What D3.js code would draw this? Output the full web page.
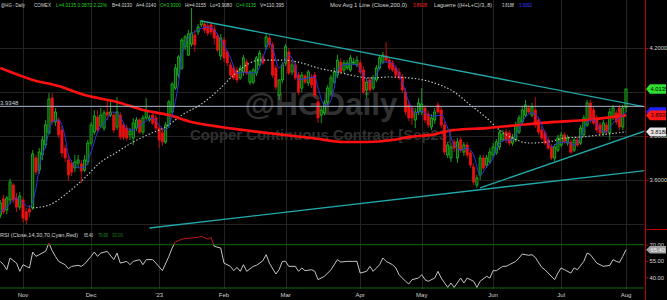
<!DOCTYPE html>
<html>
<head>
<meta charset="utf-8">
<script src="https://cdn.jsdelivr.net/npm/d3@7"></script>
<style>
  body { margin: 0; background: #000; }
  svg { display: block; font-family: Arial, "Liberation Sans", sans-serif; }
</style>
</head>
<body>
<svg id="chart"></svg>
<script>
// daily bars, Oct 21 2022 .. Aug 1 2023 (index 7 = Nov 1)
const open = [
  3.441, 3.514, 3.464, 3.509, 3.577, 3.518, 3.477, 3.509, 3.455, 3.468,
  3.473, 3.700, 3.645, 3.714, 3.759, 3.814, 3.973, 3.864, 3.873, 3.827,
  3.745, 3.691, 3.677, 3.655, 3.677, 3.673, 3.645, 3.682, 3.768, 3.818,
  3.886, 3.845, 3.836, 3.909, 3.895, 3.895, 3.841, 3.895, 3.850, 3.836,
  3.805, 3.791, 3.836, 3.873, 3.818, 3.882, 3.873, 3.895, 3.882, 3.836,
  3.814, 3.773, 3.850, 3.909, 4.018, 4.077, 4.109, 4.205, 4.168, 4.218,
  4.259, 4.273, 4.305, 4.309, 4.300, 4.305, 4.286, 4.255, 4.164, 4.236,
  4.182, 4.123, 4.109, 4.100, 4.064, 4.091, 4.136, 4.045, 4.045, 4.086,
  4.123, 4.159, 4.205, 4.245, 4.214, 4.109, 3.986, 4.055, 4.132, 4.182,
  4.091, 4.123, 4.077, 4.018, 4.073, 4.041, 4.068, 4.077, 3.955, 3.895,
  3.905, 3.955, 4.000, 4.045, 4.077, 4.136, 4.100, 4.109, 4.100, 4.132,
  4.123, 4.132, 4.100, 4.009, 4.055, 4.018, 4.055, 4.109, 4.136, 4.164,
  4.145, 4.132, 4.109, 4.091, 4.068, 4.000, 3.941, 3.927, 3.873, 3.909,
  3.909, 3.927, 3.900, 3.841, 3.873, 3.941, 3.918, 3.850, 3.714, 3.700,
  3.773, 3.700, 3.782, 3.727, 3.759, 3.723, 3.659, 3.577, 3.623, 3.700,
  3.668, 3.682, 3.714, 3.723, 3.750, 3.782, 3.818, 3.814, 3.768, 3.782,
  3.818, 3.864, 3.895, 3.927, 3.895, 3.918, 3.873, 3.827, 3.814, 3.782,
  3.750, 3.700, 3.736, 3.759, 3.805, 3.768, 3.773, 3.736, 3.782, 3.768,
  3.805, 3.850, 3.950, 3.918, 3.882, 3.850, 3.814, 3.850, 3.814, 3.886,
  3.905, 3.927, 3.841, 3.930
];
const high = [
  3.509, 3.532, 3.527, 3.605, 3.586, 3.541, 3.545, 3.523, 3.473, 3.486,
  3.736, 3.714, 3.745, 3.800, 3.873, 3.995, 3.995, 3.927, 3.886, 3.845,
  3.759, 3.714, 3.691, 3.714, 3.714, 3.691, 3.714, 3.782, 3.864, 3.918,
  3.918, 3.927, 3.918, 3.959, 3.964, 3.909, 3.977, 3.909, 3.864, 3.850,
  3.836, 3.882, 3.886, 3.882, 3.895, 3.973, 3.895, 3.909, 3.895, 3.850,
  3.836, 3.864, 3.964, 4.045, 4.127, 4.168, 4.245, 4.259, 4.282, 4.382,
  4.282, 4.309, 4.327, 4.318, 4.318, 4.318, 4.305, 4.268, 4.264, 4.250,
  4.191, 4.136, 4.123, 4.114, 4.123, 4.168, 4.150, 4.100, 4.109, 4.164,
  4.191, 4.173, 4.268, 4.259, 4.227, 4.123, 4.055, 4.136, 4.218, 4.200,
  4.136, 4.136, 4.091, 4.091, 4.082, 4.100, 4.082, 4.091, 3.973, 3.936,
  3.964, 4.032, 4.077, 4.109, 4.168, 4.155, 4.145, 4.145, 4.168, 4.155,
  4.164, 4.145, 4.118, 4.064, 4.068, 4.077, 4.123, 4.168, 4.182, 4.227,
  4.159, 4.145, 4.123, 4.109, 4.082, 4.018, 3.955, 3.941, 3.927, 3.973,
  4.018, 3.941, 3.914, 3.900, 3.927, 3.955, 3.932, 3.864, 3.773, 3.768,
  3.786, 3.791, 3.795, 3.773, 3.773, 3.736, 3.677, 3.623, 3.714, 3.714,
  3.714, 3.745, 3.768, 3.786, 3.827, 3.827, 3.832, 3.827, 3.809, 3.864,
  3.895, 3.936, 3.964, 3.941, 3.950, 3.977, 3.886, 3.841, 3.827, 3.795,
  3.764, 3.764, 3.805, 3.818, 3.818, 3.805, 3.786, 3.795, 3.795, 3.850,
  3.895, 3.964, 3.964, 3.936, 3.895, 3.864, 3.873, 3.864, 3.927, 3.941,
  3.918, 3.941, 3.941, 4.0155
];
const low = [
  3.427, 3.445, 3.445, 3.491, 3.495, 3.455, 3.464, 3.409, 3.400, 3.432,
  3.464, 3.623, 3.627, 3.691, 3.745, 3.805, 3.850, 3.845, 3.791, 3.705,
  3.682, 3.595, 3.618, 3.636, 3.655, 3.586, 3.636, 3.668, 3.755, 3.805,
  3.814, 3.836, 3.823, 3.873, 3.886, 3.814, 3.827, 3.782, 3.782, 3.777,
  3.782, 3.759, 3.823, 3.809, 3.805, 3.873, 3.864, 3.850, 3.827, 3.745,
  3.755, 3.764, 3.836, 3.900, 4.009, 4.064, 4.100, 4.191, 4.164, 4.205,
  4.182, 4.259, 4.295, 4.268, 4.255, 4.259, 4.214, 4.182, 4.145, 4.136,
  4.118, 4.064, 4.055, 4.041, 4.055, 4.073, 4.077, 4.032, 4.036, 4.073,
  4.114, 4.123, 4.191, 4.200, 4.064, 4.009, 3.964, 4.041, 4.118, 4.077,
  4.077, 4.055, 3.986, 4.000, 4.036, 4.027, 4.018, 3.973, 3.859, 3.859,
  3.895, 3.941, 3.986, 4.036, 4.064, 4.082, 4.086, 4.100, 4.091, 4.123,
  4.114, 4.082, 3.991, 3.973, 4.000, 4.009, 4.045, 4.100, 4.127, 4.132,
  4.100, 4.091, 4.064, 4.055, 3.995, 3.895, 3.868, 3.850, 3.836, 3.895,
  3.895, 3.859, 3.836, 3.827, 3.855, 3.900, 3.836, 3.714, 3.700, 3.682,
  3.727, 3.677, 3.723, 3.709, 3.700, 3.655, 3.577, 3.564, 3.600, 3.645,
  3.655, 3.673, 3.700, 3.714, 3.736, 3.773, 3.768, 3.755, 3.755, 3.773,
  3.809, 3.855, 3.886, 3.900, 3.886, 3.836, 3.805, 3.782, 3.759, 3.736,
  3.691, 3.686, 3.727, 3.750, 3.764, 3.755, 3.718, 3.727, 3.750, 3.759,
  3.795, 3.841, 3.859, 3.850, 3.814, 3.800, 3.800, 3.805, 3.782, 3.873,
  3.850, 3.827, 3.827, 3.908
];
const close = [
  3.495, 3.455, 3.518, 3.591, 3.509, 3.477, 3.527, 3.427, 3.418, 3.455,
  3.718, 3.636, 3.727, 3.782, 3.850, 3.968, 3.864, 3.909, 3.805, 3.723,
  3.700, 3.623, 3.636, 3.682, 3.691, 3.641, 3.691, 3.768, 3.850, 3.891,
  3.827, 3.895, 3.905, 3.895, 3.909, 3.827, 3.909, 3.795, 3.795, 3.791,
  3.823, 3.859, 3.873, 3.818, 3.882, 3.914, 3.882, 3.859, 3.836, 3.782,
  3.773, 3.850, 3.955, 4.036, 4.109, 4.159, 4.236, 4.250, 4.264, 4.268,
  4.214, 4.295, 4.323, 4.282, 4.268, 4.273, 4.245, 4.191, 4.245, 4.155,
  4.132, 4.077, 4.064, 4.055, 4.109, 4.155, 4.086, 4.091, 4.100, 4.155,
  4.177, 4.132, 4.250, 4.214, 4.077, 4.023, 4.055, 4.123, 4.205, 4.086,
  4.123, 4.064, 4.000, 4.077, 4.045, 4.091, 4.032, 3.986, 3.882, 3.918,
  3.950, 4.018, 4.064, 4.091, 4.145, 4.091, 4.132, 4.132, 4.155, 4.136,
  4.145, 4.091, 4.000, 4.045, 4.009, 4.064, 4.109, 4.155, 4.168, 4.145,
  4.109, 4.100, 4.077, 4.064, 4.009, 3.909, 3.882, 3.882, 3.909, 3.950,
  3.945, 3.873, 3.850, 3.882, 3.909, 3.909, 3.850, 3.727, 3.759, 3.750,
  3.745, 3.773, 3.736, 3.759, 3.714, 3.668, 3.591, 3.609, 3.700, 3.655,
  3.700, 3.727, 3.750, 3.773, 3.814, 3.809, 3.782, 3.768, 3.795, 3.850,
  3.882, 3.918, 3.941, 3.909, 3.932, 3.850, 3.818, 3.791, 3.768, 3.745,
  3.700, 3.750, 3.791, 3.805, 3.773, 3.791, 3.727, 3.782, 3.759, 3.836,
  3.882, 3.950, 3.873, 3.859, 3.827, 3.814, 3.859, 3.818, 3.909, 3.927,
  3.864, 3.841, 3.927, 4.0135
];

const monthLabels = ['Nov', 'Dec', "'23", 'Feb', 'Mar', 'Apr', 'May', 'Jun', 'Jul', 'Aug'];
const monthIdx = [7, 28, 49, 69, 88, 111, 130, 152, 173, 193];
const priceTicks = [3.4, 3.6, 3.8, 4.0, 4.2];
const priceLabels = [3.6, 3.8, 4.2]; // 4.0000 sits under the last-price tag
const rsiTicks = [40, 55, 70];

// Mov Avg (Close,200)
const maIdx = [0, 10, 18, 26, 36, 44, 52, 59, 68, 75, 85, 96, 106, 113, 121, 126, 133, 140, 150, 160, 171, 181, 193];
const maVal = [4.109, 4.055, 4.027, 3.986, 3.955, 3.918, 3.895, 3.864, 3.841, 3.827, 3.809, 3.791, 3.773, 3.773, 3.782, 3.795, 3.805, 3.827, 3.836, 3.850, 3.864, 3.873, 3.8938];

// Laguerre ((H+L+C)/3,.8)
const lagIdx = [0, 2, 5, 7, 9, 11, 12, 14, 16, 18, 20, 21, 24, 26, 28, 30, 32, 35, 37, 39, 41, 43, 45, 47, 49, 51, 53, 55, 56, 58, 61, 64, 66, 68, 71, 73, 75, 77, 79, 81, 83, 84, 86, 87, 89, 91, 92, 95, 97, 98, 100, 101, 103, 104, 106, 108, 110, 112, 114, 116, 118, 120, 122, 124, 126, 128, 130, 132, 134, 136, 138, 140, 142, 144, 146, 148, 150, 152, 154, 156, 158, 160, 162, 164, 166, 168, 170, 172, 175, 177, 179, 181, 183, 185, 187, 189, 191, 193];
const lagVal = [3.455, 3.477, 3.518, 3.495, 3.477, 3.564, 3.655, 3.759, 3.864, 3.873, 3.795, 3.714, 3.655, 3.659, 3.727, 3.818, 3.859, 3.909, 3.886, 3.836, 3.827, 3.850, 3.868, 3.882, 3.850, 3.827, 3.895, 4.045, 4.168, 4.245, 4.282, 4.295, 4.282, 4.236, 4.155, 4.086, 4.091, 4.086, 4.091, 4.155, 4.227, 4.200, 4.109, 4.123, 4.168, 4.114, 4.055, 4.064, 4.068, 4.018, 3.941, 3.941, 4.018, 4.100, 4.123, 4.127, 4.123, 4.077, 4.045, 4.077, 4.136, 4.136, 4.109, 4.045, 3.955, 3.905, 3.914, 3.895, 3.891, 3.895, 3.836, 3.759, 3.736, 3.745, 3.714, 3.623, 3.659, 3.700, 3.768, 3.782, 3.782, 3.836, 3.886, 3.905, 3.882, 3.814, 3.750, 3.768, 3.773, 3.759, 3.795, 3.864, 3.873, 3.827, 3.818, 3.859, 3.882, 3.9092];

// dotted slow average
const slowIdx = [10, 15, 21, 26, 31, 36, 41, 46, 51, 56, 62, 67, 72, 76, 80, 87, 93, 98, 104, 108, 114, 120, 126, 133, 140, 145, 150, 154, 158, 163, 169, 174, 179, 185, 193];
const slowVal = [3.473, 3.486, 3.545, 3.609, 3.682, 3.727, 3.773, 3.809, 3.841, 3.895, 3.945, 4.005, 4.077, 4.123, 4.145, 4.145, 4.132, 4.109, 4.091, 4.077, 4.064, 4.068, 4.064, 4.045, 4.000, 3.941, 3.882, 3.827, 3.791, 3.768, 3.773, 3.791, 3.795, 3.805, 3.8188];

// RSI (Close,14)
const rsiIdx = [0, 1, 2, 3, 5, 6, 7, 8, 9, 10, 11, 12, 14, 15, 16, 17, 18, 20, 21, 22, 24, 25, 26, 28, 29, 30, 31, 33, 35, 36, 37, 39, 40, 41, 43, 44, 45, 47, 48, 50, 52, 53, 54, 56, 59, 61, 62, 64, 65, 66, 68, 69, 71, 72, 73, 74, 75, 76, 78, 79, 81, 82, 83, 85, 86, 87, 88, 89, 91, 92, 93, 94, 96, 97, 98, 100, 102, 104, 105, 107, 109, 110, 111, 113, 114, 115, 117, 118, 119, 121, 122, 123, 125, 126, 127, 129, 130, 131, 132, 134, 135, 136, 138, 139, 140, 142, 143, 144, 146, 147, 148, 150, 151, 152, 153, 155, 156, 157, 159, 160, 161, 163, 164, 165, 167, 168, 169, 171, 172, 173, 174, 176, 177, 178, 180, 181, 182, 184, 185, 186, 188, 189, 190, 191, 192, 193];
const rsiVal = [54.6, 51.5, 46.9, 57.7, 53.0, 45.4, 51.5, 50.0, 48.5, 63.2, 59.2, 60.8, 64.0, 71.5, 64.5, 59.2, 54.6, 51.5, 47.8, 50.0, 50.9, 50.0, 52.2, 59.2, 63.2, 59.2, 62.3, 63.8, 56.2, 62.3, 53.0, 54.6, 51.5, 54.6, 56.2, 51.5, 56.2, 56.2, 53.0, 46.0, 59.2, 66.9, 72.5, 75.2, 76.2, 76.8, 77.7, 75.2, 76.8, 68.5, 66.9, 53.0, 50.0, 46.0, 49.1, 45.4, 51.5, 45.4, 50.0, 50.9, 55.2, 60.8, 53.0, 42.9, 46.9, 54.6, 54.6, 50.0, 50.0, 45.4, 48.5, 46.0, 46.9, 45.4, 37.7, 40.8, 46.9, 56.2, 54.0, 54.6, 54.6, 54.6, 43.8, 45.4, 50.0, 45.4, 51.5, 57.7, 54.6, 51.5, 48.5, 42.3, 36.2, 33.7, 37.7, 39.2, 42.3, 37.7, 36.2, 39.2, 45.4, 39.2, 30.6, 34.6, 30.6, 39.2, 34.6, 39.2, 36.2, 30.6, 36.2, 40.8, 39.2, 46.0, 46.0, 50.0, 50.0, 51.5, 54.6, 57.7, 61.4, 60.2, 60.8, 58.3, 49.1, 46.9, 43.8, 37.7, 43.8, 48.5, 46.9, 43.8, 48.5, 46.9, 54.6, 62.3, 60.8, 53.0, 51.5, 50.0, 50.9, 56.2, 54.6, 53.7, 59.2, 65.4];

// drawn trend lines [bar index, price]
const trendUpper = [[62, 4.323], [199, 3.932]];
const trendRising = [[148, 3.564], [199, 3.823]];
const trendLong = [[46, 3.382], [199, 3.643]];
const refLevel = 3.9348;

const width = 667, height = 300;
const plotRight = 644.5;
const upColor = '#22c822', downColor = '#ee1111';
const fontStack = 'Arial, "Liberation Sans", sans-serif';

const svg = d3.select('#chart')
  .attr('width', width)
  .attr('height', height);
svg.append('rect').attr('width', width).attr('height', height).attr('fill', '#000');

const x = d3.scaleLinear().domain([7, 193]).range([23, 626]);
const y = d3.scaleLinear().domain([3.4, 4.2]).range([224, 48]);
const yRsi = d3.scaleLinear().domain([30, 70]).range([288, 244.7]);

const defs = svg.append('defs');
defs.append('clipPath').attr('id', 'clipMain')
  .append('rect').attr('x', 0).attr('y', 0).attr('width', plotRight).attr('height', 229);
defs.append('clipPath').attr('id', 'clipRsi')
  .append('rect').attr('x', 0).attr('y', 229).attr('width', plotRight).attr('height', 61);
defs.append('clipPath').attr('id', 'clipHot')
  .append('rect').attr('x', 0).attr('y', 0).attr('width', width).attr('height', yRsi(70));
defs.append('clipPath').attr('id', 'clipCool')
  .append('rect').attr('x', 0).attr('y', yRsi(70)).attr('width', width).attr('height', 100);

// grid
const grid = svg.append('g').attr('stroke', '#242424').attr('stroke-width', 1);
grid.selectAll('.vg').data(monthIdx).enter().append('line')
  .attr('x1', d => Math.round(x(d)) + 0.5).attr('x2', d => Math.round(x(d)) + 0.5)
  .attr('y1', 0).attr('y2', 289);
grid.selectAll('.hg').data(priceTicks).enter().append('line')
  .attr('x1', 0).attr('x2', plotRight)
  .attr('y1', d => Math.round(y(d)) + 0.5).attr('y2', d => Math.round(y(d)) + 0.5);

const main = svg.append('g').attr('clip-path', 'url(#clipMain)');

// watermark
main.append('text')
  .attr('x', 321).attr('y', 115)
  .attr('text-anchor', 'middle')
  .attr('font-size', 31).attr('font-weight', 'bold')
  .attr('textLength', 153).attr('lengthAdjust', 'spacingAndGlyphs')
  .attr('fill', '#303030')
  .text('@HGDaily');
main.append('text')
  .attr('x', 321).attr('y', 140)
  .attr('text-anchor', 'middle')
  .attr('font-size', 15).attr('font-weight', 'bold')
  .attr('textLength', 262).attr('lengthAdjust', 'spacingAndGlyphs')
  .attr('fill', '#303030')
  .text('Copper Continuous Contract [Sep23]');

// candles
const bars = close.map((c, i) => ({ i: i, o: open[i], h: high[i], l: low[i], c: c }));
const candles = main.append('g');
candles.selectAll('line').data(bars).enter().append('line')
  .attr('x1', d => x(d.i)).attr('x2', d => x(d.i))
  .attr('y1', d => y(d.h)).attr('y2', d => y(d.l))
  .attr('stroke', d => d.c >= d.o ? upColor : downColor)
  .attr('stroke-width', 0.8);
candles.selectAll('rect').data(bars).enter().append('rect')
  .attr('x', d => x(d.i) - 1.1)
  .attr('width', 2.2)
  .attr('y', d => y(Math.max(d.o, d.c)))
  .attr('height', d => Math.max(1, Math.abs(y(d.o) - y(d.c))))
  .attr('fill', d => d.c >= d.o ? '#0b4a0b' : downColor)
  .attr('stroke', d => d.c >= d.o ? upColor : downColor)
  .attr('stroke-width', 0.7);

const line = d3.line().x(d => x(d[0])).y(d => y(d[1])).curve(d3.curveMonotoneX);

main.append('path')
  .datum(slowIdx.map((d, i) => [d, slowVal[i]]))
  .attr('d', line)
  .attr('fill', 'none').attr('stroke', '#d0d0d0')
  .attr('stroke-width', 1.1).attr('stroke-dasharray', '1.4 2');

main.append('path')
  .datum(maIdx.map((d, i) => [d, maVal[i]]))
  .attr('d', line)
  .attr('fill', 'none').attr('stroke', '#ff1010').attr('stroke-width', 2.6);

main.append('path')
  .datum(lagIdx.map((d, i) => [d, lagVal[i]]))
  .attr('d', line)
  .attr('fill', 'none').attr('stroke', '#2a36e0').attr('stroke-width', 1);

// trend lines
const straight = d3.line().x(d => x(d[0])).y(d => y(d[1]));
main.selectAll('.trend').data([trendUpper, trendRising, trendLong]).enter().append('path')
  .attr('d', straight)
  .attr('fill', 'none').attr('stroke', '#22a8a8').attr('stroke-width', 1.4);

// reference level
main.append('line')
  .attr('x1', 0).attr('x2', plotRight)
  .attr('y1', y(refLevel)).attr('y2', y(refLevel))
  .attr('stroke', '#a8b8cc').attr('stroke-width', 1);
svg.append('text')
  .attr('x', 0).attr('y', y(refLevel) - 1)
  .attr('font-size', 6).attr('fill', '#c8d0dc')
  .text(refLevel.toFixed(4));

// header
const hw = '#d8d8d8', hg = '#22cc22';
const header = [
  ['@HG - Daily', 1, 24, hw], ['COMEX', 34, 17, hw], ['L=4.0135 0.0870 2.22%', 56, 51, hg],
  ['B=4.0130', 112, 20, hw], ['A=4.0140', 136, 20, hw], ['O=3.9300', 160, 21, hg],
  ['Hi=4.0155', 185, 21, hw], ['Lo=3.9080', 210, 22, hw], ['C=4.0135', 236, 20, hg], ['V=110,395', 260, 24, hw],
  ['Mov Avg 1 Line (Close,200,0)', 330, 77, hw], ['3.8938', 413, 14, '#ff2020'],
  ['Laguerre ((H+L+C)/3,.8)', 434, 58, hw], ['3.8188', 502, 12, hw], ['3.9092', 519, 13, '#3a3aff']
];
svg.selectAll('.hdr').data(header).enter().append('text')
  .attr('x', d => d[1])
  .attr('y', 7)
  .attr('font-size', 6)
  .attr('textLength', d => d[2]).attr('lengthAdjust', 'spacingAndGlyphs')
  .attr('fill', d => d[3])
  .text(d => d[0]);

// RSI panel
const rsiPanel = svg.append('g').attr('clip-path', 'url(#clipRsi)');
rsiPanel.selectAll('.lvl').data([70, 30]).enter().append('line')
  .attr('x1', 0).attr('x2', plotRight)
  .attr('y1', d => yRsi(d)).attr('y2', d => yRsi(d))
  .attr('stroke', '#0c6a0c').attr('stroke-width', 1);
const rsiLine = d3.line().x(d => x(d[0])).y(d => yRsi(d[1]));
const rsiPts = rsiIdx.map((d, i) => [d, rsiVal[i]]);
rsiPanel.append('g').attr('clip-path', 'url(#clipCool)')
  .append('path').datum(rsiPts).attr('d', rsiLine)
  .attr('fill', 'none').attr('stroke', '#c4c4c4').attr('stroke-width', 1);
rsiPanel.append('g').attr('clip-path', 'url(#clipHot)')
  .append('path').datum(rsiPts).attr('d', rsiLine)
  .attr('fill', 'none').attr('stroke', '#c01818').attr('stroke-width', 1);

const rsiHeader = [
  ['RSI (Close,14,30,70,Cyan,Red)', 0, 78, hw], ['65.40', 84, 9, hw],
  ['70.00', 98, 10, '#2a9a2a'], ['30.00', 112, 11, '#1a7a1a']
];
svg.selectAll('.rhdr').data(rsiHeader).enter().append('text')
  .attr('x', d => d[1]).attr('y', 237)
  .attr('font-size', 6)
  .attr('textLength', d => d[2]).attr('lengthAdjust', 'spacingAndGlyphs')
  .attr('fill', d => d[3])
  .text(d => d[0]);

// x axis labels
svg.selectAll('.mlab').data(monthIdx).enter().append('text')
  .attr('x', d => x(d)).attr('y', 297)
  .attr('text-anchor', 'middle')
  .attr('font-size', 6)
  .attr('fill', '#d0d0d0')
  .text((d, i) => monthLabels[i]);

// right axis
svg.append('line')
  .attr('x1', 645.5).attr('x2', 645.5).attr('y1', 0).attr('y2', height)
  .attr('stroke', '#c00000').attr('stroke-width', 1);
svg.append('line')
  .attr('x1', 645).attr('x2', width).attr('y1', 229.5).attr('y2', 229.5)
  .attr('stroke', '#c00000').attr('stroke-width', 1);

const yAxis = d3.axisRight(y).tickValues(priceLabels).tickFormat(d3.format('.4f')).tickSize(3);
const gy = svg.append('g').attr('transform', 'translate(645.5,0)').call(yAxis);
gy.select('.domain').remove();
gy.selectAll('line').attr('stroke', '#c00000');
gy.selectAll('text').attr('font-size', 5.8).attr('fill', '#d8d8d8').attr('x', 4).attr('font-family', fontStack);

const rAxis = d3.axisRight(yRsi).tickValues(rsiTicks).tickFormat(d3.format('.2f')).tickSize(3);
const gr = svg.append('g').attr('transform', 'translate(645.5,0)').call(rAxis);
gr.select('.domain').remove();
gr.selectAll('line').attr('stroke', '#c00000');
gr.selectAll('text').attr('font-size', 5.8).attr('fill', '#d8d8d8').attr('x', 4).attr('font-family', fontStack);

// value tags
function tag(yPos, label, bg, fg, h) {
  const g = svg.append('g');
  g.append('path')
    .attr('d', `M646,${yPos} L650,${yPos - h} L666,${yPos - h} L666,${yPos + h} L650,${yPos + h} Z`)
    .attr('fill', bg);
  if (label) {
    g.append('text')
      .attr('x', 650.5).attr('y', yPos + 2)
      .attr('font-size', 5.8).attr('fill', fg)
      .text(label);
  }
}
tag(y(3.9092), null, '#2020ff', '#ffffff', 4.8); // mostly hidden under the moving average tag
tag(y(3.8938), '3.8938', '#ff1818', '#200000', 4.8);
tag(y(3.8188), '3.8188', '#e6e6e6', '#111', 4.4);
tag(y(close[close.length - 1]), '4.0135', '#2ee02e', '#000', 4.8);
tag(yRsi(65.4), '65.40', '#a0a0a0', '#f4f4f4', 3.8);
</script>
</body>
</html>
